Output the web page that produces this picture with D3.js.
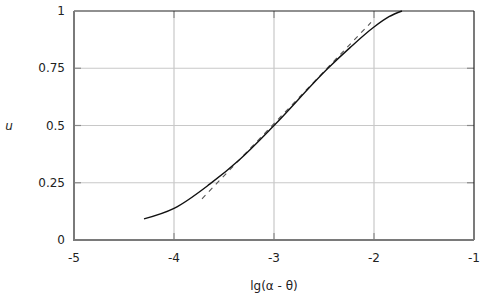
<!DOCTYPE html>
<html>
<head>
<meta charset="utf-8">
<script src="https://cdn.jsdelivr.net/npm/d3@7"></script>
<style>
  body { margin: 0; background: #fff; }
  text { font-family: "DejaVu Sans", Verdana, sans-serif; font-size: 12px; fill: #222; }
</style>
</head>
<body>
<svg id="chart" width="492" height="297"></svg>
<script>
// ─── Data ───────────────────────────────────────────────────────────────────
const xTicks = [-5, -4, -3, -2, -1];
const yTicks = [0, 0.25, 0.5, 0.75, 1];
const yTickLabels = ["0", "0.25", "0.5", "0.75", "1"];

// solid curve: u vs lg(a - θ)
const curveX = [-4.3, -4.0, -3.64, -3.34, -3.0, -2.46, -2.24, -2.0, -1.85, -1.72];
const curveU = [0.092, 0.138, 0.245, 0.353, 0.5, 0.75, 0.84, 0.93, 0.975, 1.0];

// dashed tangent line
const tangentX = [-3.72, -2.03];
const tangentU = [0.18, 0.95];

// ─── Layout ─────────────────────────────────────────────────────────────────
const svg = d3.select("#chart");
const m = { left: 74, right: 18, top: 11, bottom: 57 };
const W = 492, H = 297;

const x = d3.scaleLinear().domain([-5, -1]).range([m.left, W - m.right]);
const y = d3.scaleLinear().domain([0, 1]).range([H - m.bottom, m.top]);

// gridlines
const grid = svg.append("g");
grid.selectAll(".gx").data(xTicks.slice(1, -1)).join("line")
    .attr("x1", d => x(d)).attr("x2", d => x(d))
    .attr("y1", y(0)).attr("y2", y(1))
    .attr("stroke", "#c8c8c8").attr("stroke-width", 1.2);
grid.selectAll(".gy").data(yTicks.slice(1, -1)).join("line")
    .attr("y1", d => y(d)).attr("y2", d => y(d))
    .attr("x1", x(-5)).attr("x2", x(-1))
    .attr("stroke", "#c8c8c8").attr("stroke-width", 1.2);

// inward ticks
const tk = svg.append("g").attr("stroke", "#8a8a8a").attr("stroke-width", 1.2);
yTicks.slice(1, -1).forEach(d => {
    tk.append("line").attr("x1", x(-5)).attr("x2", x(-5) + 7).attr("y1", y(d)).attr("y2", y(d));
    tk.append("line").attr("x1", x(-1)).attr("x2", x(-1) - 7).attr("y1", y(d)).attr("y2", y(d));
});
xTicks.slice(1, -1).forEach(d => {
    tk.append("line").attr("x1", x(d)).attr("x2", x(d)).attr("y1", y(0)).attr("y2", y(0) - 7);
    tk.append("line").attr("x1", x(d)).attr("x2", x(d)).attr("y1", y(1)).attr("y2", y(1) + 7);
});

// frame: top/right dark, left/bottom gray
svg.append("line").attr("x1", x(-5)).attr("x2", x(-1)).attr("y1", y(1)).attr("y2", y(1))
    .attr("stroke", "#222").attr("stroke-width", 1.2);
svg.append("line").attr("x1", x(-1)).attr("x2", x(-1)).attr("y1", y(1)).attr("y2", y(0))
    .attr("stroke", "#222").attr("stroke-width", 1.2);
svg.append("line").attr("x1", x(-5)).attr("x2", x(-5)).attr("y1", y(1)).attr("y2", y(0) + 1)
    .attr("stroke", "#7a7a7a").attr("stroke-width", 2);
svg.append("line").attr("x1", x(-5) - 1).attr("x2", x(-1)).attr("y1", y(0)).attr("y2", y(0))
    .attr("stroke", "#7a7a7a").attr("stroke-width", 2);

// tick labels
svg.append("g").selectAll("text").data(yTicks).join("text")
    .attr("x", x(-5) - 9).attr("y", d => y(d)).attr("dy", "0.35em")
    .attr("text-anchor", "end").text((d, i) => yTickLabels[i]);
svg.append("g").selectAll("text").data(xTicks).join("text")
    .attr("x", d => x(d)).attr("y", y(0) + 18).attr("dy", "0.35em")
    .attr("text-anchor", "middle").text(d => d);

// axis titles
svg.append("text").attr("x", 9).attr("y", y(0.5)).attr("dy", "0.35em")
    .attr("text-anchor", "middle").style("font-style", "italic").text("u");
svg.append("text").attr("x", x(-3)).attr("y", 286).attr("dy", "0.35em")
    .attr("text-anchor", "middle").text("lg(α - θ)");

// curves
const line = d3.line().x(d => x(d[0])).y(d => y(d[1]));
svg.append("path")
    .datum(d3.zip(tangentX, tangentU))
    .attr("d", line)
    .attr("fill", "none").attr("stroke", "#555").attr("stroke-width", 1.1)
    .attr("stroke-dasharray", "5,5");
svg.append("path")
    .datum(d3.zip(curveX, curveU))
    .attr("d", line.curve(d3.curveMonotoneX))
    .attr("fill", "none").attr("stroke", "#111").attr("stroke-width", 1.4);
</script>
</body>
</html>
